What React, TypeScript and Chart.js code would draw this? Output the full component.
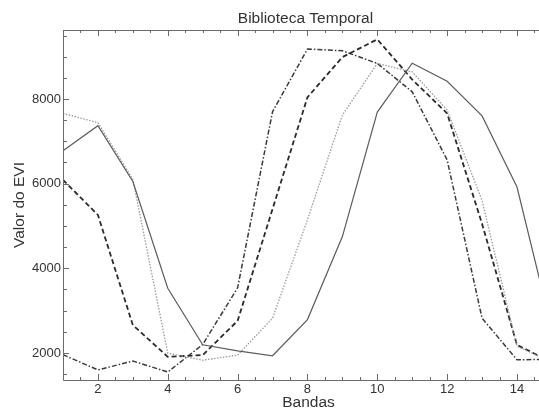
import React, { useEffect, useRef } from "react";
import { Chart, registerables } from "chart.js";

Chart.register(...registerables);

const bandas = [1, 2, 3, 4, 5, 6, 7, 8, 9, 10, 11, 12, 13, 14, 15];
const serieSolida = [6780, 7370, 6050, 3530, 2195, 2050, 1935, 2790, 4750, 7690, 8845, 8420, 7600, 5920, 2550];
const seriePontilhada = [7660, 7440, 6100, 1995, 1830, 1950, 2820, 5150, 7620, 8840, 8640, 7740, 5600, 2160, 1780];
const serieTracejada = [6090, 5260, 2660, 1910, 1950, 2760, 5400, 8040, 8990, 9410, 8460, 7660, 5050, 2190, 1780];
const serieTracoPonto = [1960, 1600, 1810, 1550, 2200, 3540, 7700, 9180, 9140, 8840, 8170, 6560, 2820, 1840, 1850];

const xTicks = [2, 4, 6, 8, 10, 12, 14];
const yTicks = [2000, 4000, 6000, 8000];

const titulo = "Biblioteca Temporal";
const tituloX = "Bandas";
const tituloY = "Valor do EVI";

const toPts = (vals: number[]) => bandas.map((b, i) => ({ x: b, y: vals[i] }));

const FONT = "'Liberation Sans', Arial, sans-serif";

const axesPlugin = {
  id: "idlAxes",
  afterDraw(chart: any) {
    const { ctx, chartArea, scales } = chart;
    const xs = scales.x;
    const ys = scales.y;
    const { left, top, bottom, right } = chartArea;
    ctx.save();
    ctx.strokeStyle = "#6a6a6a";
    ctx.lineWidth = 1;
    ctx.beginPath();
    ctx.moveTo(left + 0.5, top + 0.5);
    ctx.lineTo(right, top + 0.5);
    ctx.moveTo(left + 0.5, top);
    ctx.lineTo(left + 0.5, bottom + 0.5);
    ctx.lineTo(right, bottom + 0.5);
    ctx.stroke();

    ctx.beginPath();
    for (let v = xs.min; v <= xs.max + 1e-9; v += 0.5) {
      const vv = Math.round(v * 2) / 2;
      if (vv < xs.min) continue;
      const px = Math.round(xs.getPixelForValue(vv)) + 0.5;
      const major = xTicks.includes(vv);
      const len = major ? 6 : 3;
      ctx.moveTo(px, bottom);
      ctx.lineTo(px, bottom - len);
      ctx.moveTo(px, top);
      ctx.lineTo(px, top + len);
    }
    for (let v = 1500; v <= ys.max; v += 500) {
      const py = Math.round(ys.getPixelForValue(v)) + 0.5;
      const major = yTicks.includes(v);
      const len = major ? 6 : 4;
      ctx.moveTo(left, py);
      ctx.lineTo(left + len, py);
    }
    ctx.stroke();

    ctx.fillStyle = "#333";
    ctx.font = `13px ${FONT}`;
    ctx.textAlign = "center";
    ctx.textBaseline = "middle";
    xTicks.forEach((t) => {
      ctx.fillText(String(t), xs.getPixelForValue(t), bottom + 9);
    });
    ctx.textAlign = "right";
    yTicks.forEach((t) => {
      ctx.fillText(String(t), left - 2, ys.getPixelForValue(t));
    });

    const cx = (left + xs.getPixelForValue(15)) / 2;
    ctx.font = `15.5px ${FONT}`;
    ctx.textAlign = "center";
    ctx.textBaseline = "middle";
    ctx.fillText(titulo, cx - 2, top - 11);
    ctx.fillText(tituloX, cx + 1, bottom + 23);
    ctx.save();
    ctx.translate(20, (top + bottom) / 2);
    ctx.rotate(-Math.PI / 2);
    ctx.fillText(tituloY, 0, 0);
    ctx.restore();
    ctx.restore();
  },
};

export default function App() {
  const ref = useRef<HTMLCanvasElement | null>(null);
  useEffect(() => {
    if (!ref.current) return;
    const chart = new Chart(ref.current, {
      type: "line",
      data: {
        datasets: [
          {
            label: "a",
            data: toPts(serieSolida),
            borderColor: "#5c5c5c",
            borderWidth: 1.2,
            pointRadius: 0,
            tension: 0,
          },
          {
            label: "b",
            data: toPts(seriePontilhada),
            borderColor: "#9a9a9a",
            borderWidth: 1.3,
            borderDash: [1.5, 1.5],
            pointRadius: 0,
            tension: 0,
          },
          {
            label: "c",
            data: toPts(serieTracejada),
            borderColor: "#2a2a2a",
            borderWidth: 1.8,
            borderDash: [5, 3],
            pointRadius: 0,
            tension: 0,
          },
          {
            label: "d",
            data: toPts(serieTracoPonto),
            borderColor: "#3a3a3a",
            borderWidth: 1.5,
            borderDash: [5, 2, 1.5, 2],
            pointRadius: 0,
            tension: 0,
          },
        ],
      },
      options: {
        animation: false,
        responsive: false,
        maintainAspectRatio: false,
        layout: { padding: { left: 63, top: 30, right: 0, bottom: 33 } },
        plugins: { legend: { display: false }, tooltip: { enabled: false }, title: { display: false } },
        scales: {
          x: { type: "linear", min: 1, max: 14.63, display: false },
          y: { type: "linear", min: 1362, max: 9630, display: false },
        },
      },
      plugins: [axesPlugin],
    });
    return () => chart.destroy();
  }, []);
  return (
    <div style={{ position: "fixed", left: 0, top: 0, width: 539, height: 413, background: "#fff" }}>
      <canvas ref={ref} width={539} height={413} style={{ width: 539, height: 413, display: "block" }} />
    </div>
  );
}
